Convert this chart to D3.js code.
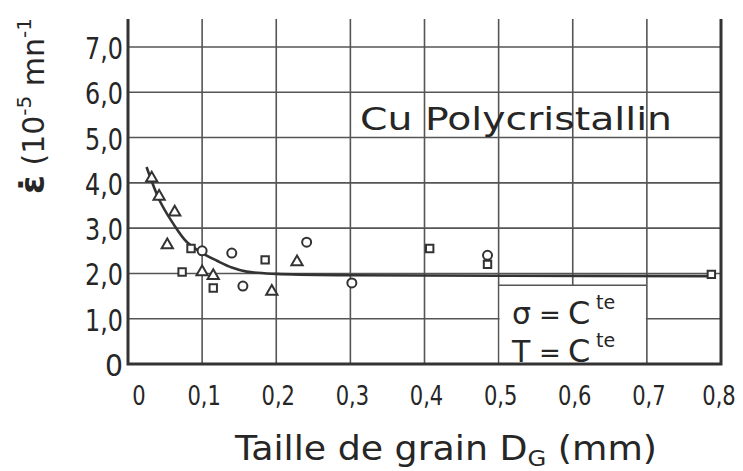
<!DOCTYPE html>
<html>
<head>
<meta charset="utf-8">
<script src="https://cdn.jsdelivr.net/npm/d3@7"></script>
<style>
  html, body { margin: 0; padding: 0; background: #fff; }
  text { font-family: "DejaVu Sans", "Liberation Sans", sans-serif; fill: #262626; }
</style>
</head>
<body>
<div id="chart"></div>
<script>
//
// Data
//
const xTicks = [0, 0.1, 0.2, 0.3, 0.4, 0.5, 0.6, 0.7, 0.8]
const xTickLabels = ["0", "0,1", "0,2", "0,3", "0,4", "0,5", "0,6", "0,7", "0,8"]
const yTicks = [0, 1, 2, 3, 4, 5, 6, 7]
const yTickLabels = ["0", "1,0", "2,0", "3,0", "4,0", "5,0", "6,0", "7,0"]

// fitted curve (grain size mm, strain rate 1e-5 /min)
const curveX = [0.025, 0.043, 0.061, 0.079, 0.1, 0.12, 0.14, 0.16, 0.2, 0.3, 0.5, 0.787]
const curveY = [4.35, 3.6, 3.1, 2.7, 2.45, 2.28, 2.13, 2.04, 1.99, 1.96, 1.95, 1.94]

const triangleX = [0.032, 0.042, 0.063, 0.053, 0.1, 0.115, 0.194, 0.228]
const triangleY = [4.1, 3.7, 3.35, 2.63, 2.03, 1.95, 1.6, 2.25]
const squareX = [0.073, 0.085, 0.115, 0.185, 0.407, 0.485, 0.787]
const squareY = [2.03, 2.55, 1.68, 2.3, 2.55, 2.2, 1.98]
const circleX = [0.1, 0.14, 0.155, 0.241, 0.302, 0.485]
const circleY = [2.5, 2.45, 1.72, 2.69, 1.79, 2.4]

const width = 743
const height = 471
const ink = "#333"

let svg = d3.select("#chart")
  .append("svg")
    .attr("width", width)
    .attr("height", height)

svg.append("rect").attr("width", width).attr("height", height).attr("fill", "#fff")

//
// Scales
//
let x = d3.scaleLinear().domain([0, 0.8]).range([128, 721])
let y = d3.scaleLinear().domain([0, 7]).range([364, 47])
const yTop = 7.62

// horizontal grid
svg.append("g")
  .selectAll("line")
  .data(yTicks.slice(1))
  .enter()
  .append("line")
    .attr("x1", x(0))
    .attr("x2", x(0.8))
    .attr("y1", d => y(d))
    .attr("y2", d => y(d))
    .attr("stroke", "#555")
    .attr("stroke-width", 1.6)

// vertical grid
svg.append("g")
  .selectAll("line")
  .data(xTicks.slice(1, -1))
  .enter()
  .append("line")
    .attr("x1", d => x(d))
    .attr("x2", d => x(d))
    .attr("y1", y(0))
    .attr("y2", y(yTop))
    .attr("stroke", "#555")
    .attr("stroke-width", 1.6)

// box for the conditions (hides grid inside)
const boxTop = 1.74
svg.append("rect")
  .attr("x", x(0.5) + 1)
  .attr("y", y(boxTop))
  .attr("width", x(0.7) - x(0.5) - 2)
  .attr("height", y(0) - y(boxTop))
  .attr("fill", "#fff")
svg.append("line")
  .attr("x1", x(0.5)).attr("x2", x(0.7))
  .attr("y1", y(boxTop)).attr("y2", y(boxTop))
  .attr("stroke", "#555").attr("stroke-width", 1.4)

// frame: left, bottom, right
svg.append("path")
  .attr("d", `M${x(0)},${y(yTop)}V${y(0)}H${x(0.8)}V${y(yTop)}`)
  .attr("fill", "none")
  .attr("stroke", ink)
  .attr("stroke-width", 3)

//
// Tick labels
//
svg.append("g")
  .selectAll("text")
  .data(yTicks)
  .enter()
  .append("text")
    .attr("x", 123)
    .attr("y", d => y(d) + 12)
    .attr("text-anchor", "end")
    .attr("font-size", 31)
    .attr("textLength", (d, i) => i === 0 ? 18 : 38)
    .attr("lengthAdjust", "spacingAndGlyphs")
    .text((d, i) => yTickLabels[i])

// x labels squeezed horizontally like the condensed original
svg.append("g")
  .selectAll("text")
  .data(xTicks)
  .enter()
  .append("text")
    .attr("transform", (d, i) => {
      let cx = i === 0 ? x(d) + 11 : (i === 8 ? x(d) - 2 : x(d) + 2)
      return `translate(${cx},405) scale(0.78,1)`
    })
    .attr("text-anchor", "middle")
    .attr("font-size", 27)
    .text((d, i) => xTickLabels[i])

//
// Axis titles
//
let xt = svg.append("text")
  .attr("x", 235)
  .attr("y", 460)
  .attr("font-size", 33)
  .attr("textLength", 422)
  .attr("lengthAdjust", "spacingAndGlyphs")
xt.append("tspan").text("Taille de grain D")
xt.append("tspan").attr("font-size", 22).attr("dy", 6).text("G")
xt.append("tspan").attr("dy", -6).text(" (mm)")

let yt = svg.append("text")
  .attr("transform", "translate(44,194) rotate(-90)")
  .attr("font-size", 30)
yt.append("tspan").attr("font-weight", "bold").attr("font-size", 34).text("ε̇")
yt.append("tspan").text(" (10")
yt.append("tspan").attr("font-size", 20).attr("dy", -13).text("-5")
yt.append("tspan").attr("dy", 13).text(" mn")
yt.append("tspan").attr("font-size", 20).attr("dy", -13).text("-1")

// material label
svg.append("text")
  .attr("x", 360)
  .attr("y", 130)
  .attr("font-size", 32)
  .attr("textLength", 312)
  .attr("lengthAdjust", "spacingAndGlyphs")
  .text("Cu Polycristallin")

// conditions
const condRows = [["σ", 324], ["T", 362]]
condRows.forEach(function(r) {
  svg.append("text").attr("x", 512).attr("y", r[1]).attr("font-size", 30).text(r[0])
  svg.append("text").attr("x", 539).attr("y", r[1]).attr("font-size", 26).text("=")
  svg.append("text").attr("x", 568).attr("y", r[1]).attr("font-size", 32).text("C")
  svg.append("text").attr("x", 596).attr("y", r[1] - 15).attr("font-size", 19).text("te")
})

//
// Curve
//
const curvePts = curveX.map((d, i) => [d, curveY[i]])
svg.append("path")
  .datum(curvePts)
  .attr("d", d3.line().x(d => x(d[0])).y(d => y(d[1])).curve(d3.curveCatmullRom.alpha(0.5)))
  .attr("fill", "none")
  .attr("stroke", ink)
  .attr("stroke-width", 2.6)

//
// Markers
//
const tri = d3.symbol().type(d3.symbolTriangle).size(55)
const sq = d3.symbol().type(d3.symbolSquare).size(55)

svg.append("g")
  .selectAll("path")
  .data(triangleX.map((d, i) => [d, triangleY[i]]))
  .enter()
  .append("path")
    .attr("transform", d => `translate(${x(d[0])},${y(d[1])})`)
    .attr("d", tri)
    .attr("fill", "#fff")
    .attr("stroke", ink)
    .attr("stroke-width", 2)

svg.append("g")
  .selectAll("path")
  .data(squareX.map((d, i) => [d, squareY[i]]))
  .enter()
  .append("path")
    .attr("transform", d => `translate(${x(d[0])},${y(d[1])})`)
    .attr("d", sq)
    .attr("fill", "#fff")
    .attr("stroke", ink)
    .attr("stroke-width", 2)

svg.append("g")
  .selectAll("circle")
  .data(circleX.map((d, i) => [d, circleY[i]]))
  .enter()
  .append("circle")
    .attr("cx", d => x(d[0]))
    .attr("cy", d => y(d[1]))
    .attr("r", 4.5)
    .attr("fill", "#fff")
    .attr("stroke", ink)
    .attr("stroke-width", 2)
</script>
</body>
</html>
